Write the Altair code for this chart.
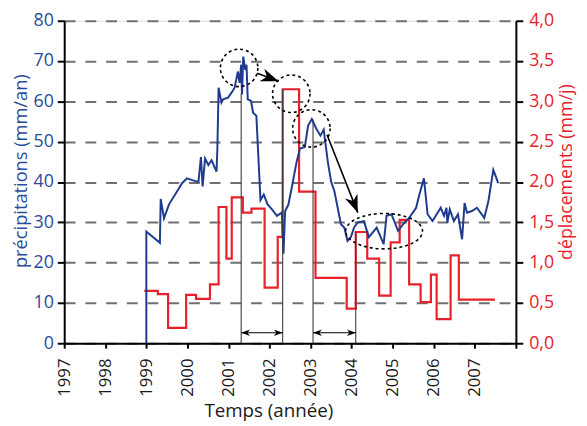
import math
import altair as alt
import pandas as pd

# ---------------- data ----------------
year_ticks = list(range(1997, 2009))
precip_ticks = list(range(0, 90, 10))
disp_ticks = [0.0, 0.5, 1.0, 1.5, 2.0, 2.5, 3.0, 3.5, 4.0]

precip_year = [1999.0, 1999.0, 1999.33, 1999.35, 1999.43, 1999.55, 1999.75, 1999.87, 1999.99,
               2000.23, 2000.27, 2000.33, 2000.37, 2000.43, 2000.51, 2000.59, 2000.64, 2000.71,
               2000.73, 2000.76, 2000.83, 2000.87, 2000.99, 2001.07, 2001.15, 2001.23, 2001.27,
               2001.31, 2001.33, 2001.36, 2001.41, 2001.44, 2001.47, 2001.55, 2001.60, 2001.68,
               2001.78, 2001.86, 2001.95, 2002.06, 2002.18, 2002.30, 2002.34, 2002.38, 2002.46,
               2002.54, 2002.66, 2002.74, 2002.86, 2002.94, 2003.03, 2003.14, 2003.24, 2003.32,
               2003.42, 2003.50, 2003.58, 2003.66, 2003.74, 2003.82, 2003.90, 2003.98, 2004.06,
               2004.15, 2004.30, 2004.42, 2004.61, 2004.78, 2004.85, 2004.97, 2005.13, 2005.25,
               2005.37, 2005.49, 2005.57, 2005.65, 2005.76, 2005.85, 2005.97, 2006.17, 2006.25,
               2006.31, 2006.33, 2006.39, 2006.49, 2006.59, 2006.69, 2006.75, 2006.81, 2006.93,
               2007.05, 2007.23, 2007.33, 2007.45, 2007.57]
precip_value = [0.0, 27.7, 24.9, 35.8, 31.0, 34.4, 37.7, 39.7, 40.9,
                40.1, 40.1, 46.2, 38.9, 45.8, 44.2, 45.4, 44.2, 42.6,
                48.3, 63.4, 59.7, 60.5, 60.9, 62.1, 63.4, 67.4, 64.6,
                69.1, 61.7, 71.1, 67.8, 69.1, 60.5, 60.1, 57.2, 56.4,
                35.5, 36.9, 34.5, 33.2, 31.6, 32.4, 22.2, 32.8, 34.4,
                38.5, 45.0, 48.3, 48.7, 54.0, 55.6, 53.2, 51.5, 53.0,
                45.0, 40.1, 37.7, 33.6, 29.5, 28.7, 25.4, 26.3, 28.7,
                30.0, 30.3, 26.3, 28.7, 24.6, 31.6, 32.0, 27.9, 29.5,
                30.7, 32.4, 33.6, 36.9, 40.9, 32.0, 30.3, 33.6, 31.6,
                33.6, 29.9, 33.2, 30.3, 32.0, 25.8, 34.8, 32.4, 32.8,
                33.6, 31.1, 35.2, 43.0, 39.7]

disp_year = [1998.95, 1999.28, 1999.53, 1999.97, 2000.21, 2000.55, 2000.76, 2000.95, 2001.08,
             2001.35, 2001.56, 2001.88, 2002.20, 2002.32, 2002.72, 2003.12, 2003.88, 2004.10,
             2004.38, 2004.67, 2004.95, 2005.17, 2005.40, 2005.68, 2005.93, 2006.07, 2006.41,
             2006.61, 2007.49]
disp_value = [0.65, 0.61, 0.19, 0.60, 0.55, 0.73, 1.69, 1.05, 1.81,
              1.62, 1.67, 0.69, 1.32, 3.15, 1.88, 0.81, 0.43, 1.38,
              1.05, 0.59, 1.25, 1.53, 0.73, 0.51, 0.85, 0.30, 1.09,
              0.54, 0.54]

# annotations (in data units of the left axis)
vline_year = [2001.31, 2002.32, 2003.06, 2004.10]
vline_top = [62.0, 63.0, 55.5, 27.6]
span_start = [2001.31, 2003.06]
span_end = [2002.32, 2004.10]
span_level = [2.6, 2.6]
circle_year = [2001.26, 2002.53, 2003.02]
circle_value = [68.3, 61.9, 53.3]
ellipse_year = [2004.79]
ellipse_value = [27.8]
arrow_from_year = [2001.70, 2003.40]
arrow_from_value = [67.0, 51.7]
arrow_to_year = [2002.22, 2004.15]
arrow_to_value = [65.0, 32.4]

# ---------------- styling ----------------
W, H = 458, 327
X0, X1 = 1997, 2008
PMAX, DMAX = 80, 4
BLUE = "#1e3b8f"
BLUE_TXT = "#2b4b9b"
RED = "#e8202a"
FONT = "Open Sans"

xs = alt.Scale(domain=[X0, X1], nice=False, zero=False)
yl = alt.Scale(domain=[0, PMAX], nice=False)
yr = alt.Scale(domain=[0, DMAX], nice=False)

precip_df = pd.DataFrame({"year": precip_year, "p": precip_value,
                          "i": list(range(len(precip_year)))})
disp_df = pd.DataFrame({"year": disp_year, "d": disp_value})
vline_df = pd.DataFrame({"year": vline_year, "p": [0] * len(vline_year), "hi": vline_top})
span_df = pd.DataFrame({"year": span_start, "b": span_end, "p": span_level})
heads = []
for a, b, v in zip(span_start, span_end, span_level):
    heads.append({"year": a, "p": v, "ang": 180})
    heads.append({"year": b, "p": v, "ang": 0})
span_head_df = pd.DataFrame(heads)
circle_df = pd.DataFrame({"year": circle_year, "p": circle_value})
ellipse_df = pd.DataFrame({"year": ellipse_year, "p": ellipse_value})

pxy = W / (X1 - X0)
pxp = H / PMAX
arrow_df = pd.DataFrame({"year": arrow_from_year, "p": arrow_from_value,
                         "x2": arrow_to_year, "y2": arrow_to_value})
arrow_df["ang"] = [
    math.degrees(math.atan2((y1 - y2) * pxp, (x2 - x1) * pxy)) % 360
    for x1, y1, x2, y2 in zip(arrow_from_year, arrow_from_value, arrow_to_year, arrow_to_value)
]
arrow_head_df = pd.DataFrame({"year": arrow_to_year, "p": arrow_to_value, "ang": arrow_df["ang"]})

HEAD = "M0,0 L-2,-0.75 L-1.4,0 L-2,0.75 Z"
ELLIPSE = "M-1,0 A1,0.46 0 1,1 1,0 A1,0.46 0 1,1 -1,0 Z"

x_axis = alt.Axis(values=year_ticks, labelAngle=270,
                  labelExpr="datum.value == 2008 ? '' : format(datum.value, 'd')",
                  labelFont=FONT, labelFontSize=17, labelColor="#1a1a1a",
                  tickSize=5, tickWidth=2, tickColor="black", domainColor="black", domainWidth=2,
                  labelPadding=10, grid=False,
                  title="Temps (année)", titleFont=FONT, titleFontSize=19, titleFontWeight="normal",
                  titleColor="#1a1a1a", titleX=207, titleY=74, titleAlign="center",
                  titleBaseline="alphabetic")

left_axis = alt.Axis(values=precip_ticks, orient="left", labelFont=FONT, labelFontSize=18,
                     labelColor=BLUE_TXT, tickSize=7, tickWidth=2, tickColor="black",
                     domainColor="black", domainWidth=2, labelPadding=4,
                     grid=True, gridDash=[11, 10], gridColor="#707070", gridWidth=2,
                     title="précipitations (mm/an)", titleFont=FONT, titleFontSize=18.5,
                     titleFontWeight="normal", titleColor=BLUE_TXT, titleAngle=270,
                     titleX=-44, titleY=152, titleAlign="center", titleBaseline="middle")

right_axis = alt.Axis(values=disp_ticks, orient="right", labelFont=FONT, labelFontSize=18,
                      labelColor=RED, tickSize=7, tickWidth=2, tickColor="black",
                      domainColor="black", domainWidth=2, labelPadding=6, grid=False,
                      labelExpr="replace(format(datum.value, '.1f'), '.', ',')",
                      title="déplacements (mm/j)", titleFont=FONT, titleFontSize=18,
                      titleFontWeight="normal", titleColor=RED, titleAngle=270,
                      titleX=51, titleY=153, titleAlign="center", titleBaseline="middle")

X = alt.X("year:Q", scale=xs, axis=x_axis)
YL = alt.Y("p:Q", scale=yl, axis=left_axis)

red = alt.Chart(disp_df).mark_line(interpolate="step-after", color=RED, strokeWidth=2.2).encode(
    x=X,
    y=alt.Y("d:Q", scale=yr, axis=right_axis),
)

blue = alt.Chart(precip_df).mark_line(color=BLUE, strokeWidth=2).encode(
    x=X, y=YL, order="i:Q",
)

vlines = alt.Chart(vline_df).mark_rule(color="#3a3a3a", strokeWidth=1.1).encode(
    x=X, y=YL, y2="hi:Q",
)

spans = alt.Chart(span_df).mark_rule(color="black", strokeWidth=1.2).encode(
    x=X, x2="b:Q", y=YL,
)

span_heads = alt.Chart(span_head_df).mark_point(shape=HEAD, filled=True, color="black",
                                                opacity=1, size=81, strokeWidth=0).encode(
    x=X, y=YL, angle=alt.Angle("ang:Q", scale=None),
)

circles = alt.Chart(circle_df).mark_point(shape="circle", filled=False, color="black", opacity=1,
                                          size=1444, strokeWidth=1.6, strokeDash=[3, 3]).encode(
    x=X, y=YL,
)

ellipse = alt.Chart(ellipse_df).mark_point(shape=ELLIPSE, filled=False, color="black", opacity=1,
                                           size=6084, strokeWidth=1.6, strokeDash=[3, 3]).encode(
    x=X, y=YL,
)

arrow_lines = alt.Chart(arrow_df).mark_rule(color="black", strokeWidth=1.6).encode(
    x=X, x2="x2:Q", y=YL, y2="y2:Q",
)

arrow_heads = alt.Chart(arrow_head_df).mark_point(shape=HEAD, filled=True, color="black", opacity=1,
                                                  size=324, strokeWidth=0).encode(
    x=X, y=YL, angle=alt.Angle("ang:Q", scale=None),
)

left_layer = alt.layer(blue, vlines, spans, span_heads, circles, ellipse, arrow_lines, arrow_heads)

chart = alt.layer(red, left_layer).resolve_scale(y="independent").properties(
    width=W, height=H,
    autosize=alt.AutoSizeParams(type="none"),
    padding={"left": 57, "top": 10, "right": 64, "bottom": 81},
).configure_view(stroke=None).configure(background="white")

chart.save("out.html", embed_options={"renderer": "svg", "actions": False})
